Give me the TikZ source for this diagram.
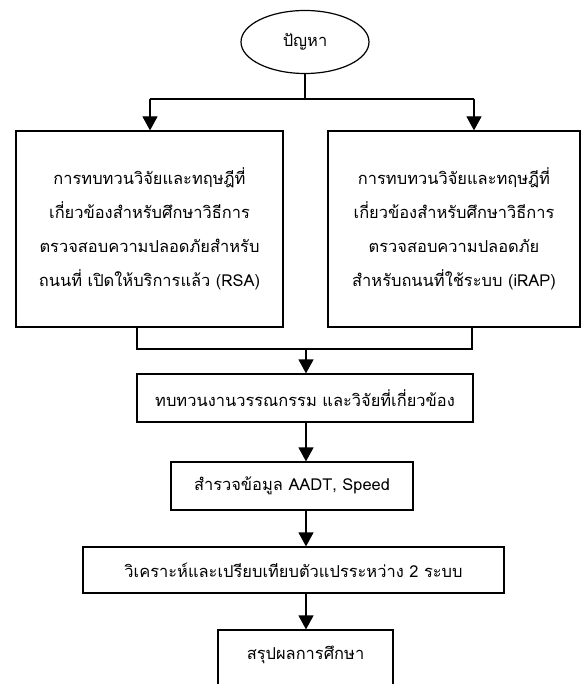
\documentclass[tikz,border=0pt]{standalone}
\usepackage{fontspec}
\newfontfamily\thaifont[Script=Thai]{Loma}
\usetikzlibrary{shapes.geometric,arrows.meta}
\begin{document}
\begin{tikzpicture}[x=1bp,y=-1bp,
  line width=1.2bp,
  txt/.style={font=\thaifont\fontsize{16.5}{34}\selectfont, align=center, inner sep=0pt},
  box/.style={txt, draw, rectangle},
  arr/.style={-{Triangle[width=15bp,length=14bp]}}]
\useasboundingbox (0,0) rectangle (581,684);
\clip (0,0) rectangle (581,684);
\node[txt, draw, ellipse, minimum width=128bp, minimum height=63bp] (e) at (305,42) {ปัญหา};
\node[box, minimum width=267bp, minimum height=196bp] (L) at (149.5,229)
  {การทบทวนวิจัยและทฤษฎีที่\\เกี่ยวข้องสำหรับศึกษาวิธีการ\\ตรวจสอบความปลอดภัยสำหรับ\\ถนนที่ เปิดให้บริการแล้ว (RSA)};
\node[box, minimum width=252bp, minimum height=196bp] (R) at (454,229)
  {การทบทวนวิจัยและทฤษฎีที่\\เกี่ยวข้องสำหรับศึกษาวิธีการ\\ตรวจสอบความปลอดภัย\\สำหรับถนนที่ใช้ระบบ (iRAP)};
\node[box, minimum width=336bp, minimum height=48bp] (b3) at (305,398) {ทบทวนงานวรรณกรรม และวิจัยที่เกี่ยวข้อง};
\node[box, minimum width=242bp, minimum height=48bp] (b4) at (292,486) {สำรวจข้อมูล AADT, Speed};
\node[box, minimum width=421bp, minimum height=46bp] (b5) at (293.5,570) {วิเคราะห์และเปรียบเทียบตัวแปรระหว่าง 2 ระบบ};
\node[box, minimum width=175bp, minimum height=60bp] (b6) at (305.5,660) {\raisebox{15bp}{สรุปผลการศึกษา}};
\coordinate (jl) at (150,99);
\coordinate (jr) at (474,99);
\coordinate (ml) at (137,349);
\coordinate (mr) at (472,349);
\coordinate (ax) at (306,0);
\draw (e.south) -- (e.south |- jl);
\draw (jl) -- (jr);
\draw[arr] (jl) -- (jl |- L.north);
\draw[arr] (jr) -- (jr |- R.north);
\draw (L.south -| ml) -- (ml) -- (mr) -- (R.south -| mr);
\draw[arr] (ml -| ax) -- (b3.north -| ax);
\draw[arr] (b3.south -| ax) -- (b4.north -| ax);
\draw[arr] (b4.south -| ax) -- (b5.north -| ax);
\draw[arr] (b5.south -| ax) -- (b6.north -| ax);
\end{tikzpicture}
\end{document}
